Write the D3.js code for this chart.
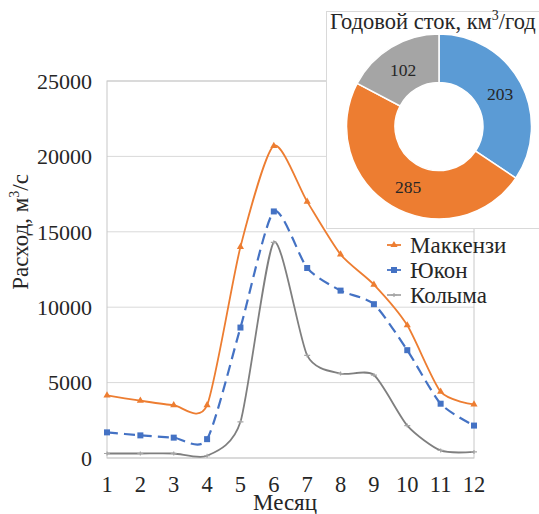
<!DOCTYPE html>
<html><head><meta charset="utf-8">
<script src="https://cdn.jsdelivr.net/npm/d3@7"></script>
<style>body{margin:0;background:#fff}svg text{font-family:'Liberation Serif','Times New Roman',serif;fill:#262626}</style>
</head><body>
<svg id="c" width="539" height="514"></svg>
<script>
const months = [1,2,3,4,5,6,7,8,9,10,11,12];
const mackenzie = [4150,3800,3500,3500,14000,20700,17000,13500,11500,8800,4400,3550];
const yukon = [1700,1500,1350,1250,8650,16350,12600,11100,10200,7150,3600,2150];
const kolyma = [300,300,300,150,2400,14300,6800,5600,5500,2150,500,400];
const seriesNames = ["Маккензи","Юкон","Колыма"];
const yTicks = [0,5000,10000,15000,20000,25000];
const annualNames = ["Юкон","Маккензи","Колыма"];
const annualValues = [203,285,102];
const annualColors = ["#5B9BD5","#ED7D31","#A5A5A5"];

const svg = d3.select("#c");
const x = d3.scaleLinear().domain([1,12]).range([107,474]);
const y = d3.scaleLinear().domain([0,25000]).range([458,81]);

svg.append("g").selectAll("line").data(yTicks).join("line")
  .attr("x1",x(1)).attr("x2",x(12)).attr("y1",d=>y(d)).attr("y2",d=>y(d))
  .attr("stroke","#d9d9d9").attr("stroke-width",1);
svg.append("rect").attr("x",x(1)).attr("y",y(25000)).attr("width",x(12)-x(1)).attr("height",y(0)-y(25000))
  .attr("fill","none").attr("stroke","#c8c8c8");

svg.append("g").selectAll("text").data(yTicks).join("text")
  .attr("x",92).attr("y",d=>y(d)).attr("dy","0.35em").attr("text-anchor","end")
  .attr("font-size",22).text(d=>d);
svg.append("g").selectAll("text").data(months).join("text")
  .attr("x",d=>x(d)).attr("y",492).attr("text-anchor","middle")
  .attr("font-size",22.5).text(d=>d);
svg.append("text").attr("x",285).attr("y",510).attr("text-anchor","middle").attr("font-size",23).text("Месяц");
const yl = svg.append("text").attr("transform","translate(28,232) rotate(-90)").attr("text-anchor","middle").attr("font-size",23);
yl.append("tspan").text("Расход, м");
yl.append("tspan").attr("font-size",14).attr("dy",-9).text("3");
yl.append("tspan").attr("dy",9).text("/с");

const curve = d3.curveCardinal.tension(0.3);
const line = d3.line().x((d,i)=>x(months[i])).y(d=>y(d)).curve(curve);

const series = [
  {name:seriesNames[0], vals:mackenzie, color:"#ED7D31", dash:null, marker:"tri"},
  {name:seriesNames[1], vals:yukon, color:"#4472C4", dash:"11,6", marker:"sq"},
  {name:seriesNames[2], vals:kolyma, color:"#7f7f7f", dash:null, marker:"plus"}
];
function marker(g, type, color, cx, cy){
  if(type==="tri") g.append("path").attr("d",d3.symbol(d3.symbolTriangle,22)()).attr("transform",`translate(${cx},${cy})`).attr("fill",color);
  else if(type==="sq") g.append("rect").attr("x",cx-3).attr("y",cy-3).attr("width",6).attr("height",6).attr("fill",color);
  else { g.append("path").attr("d",`M${cx-3},${cy}H${cx+3}M${cx},${cy-2}V${cy+2}`).attr("stroke","#a6a6a6").attr("stroke-width",1.2); }
}
series.slice().reverse().forEach(s=>{
  svg.append("path").attr("d",line(s.vals)).attr("fill","none").attr("stroke",s.color)
    .attr("stroke-width",s.marker==="sq"?2.2:1.8).attr("stroke-dasharray",s.dash);
  const g = svg.append("g");
  s.vals.forEach((v,i)=>marker(g,s.marker,s.color,x(months[i]),y(v)));
});

svg.append("rect").attr("x",326.5).attr("y",11.5).attr("width",220).attr("height",217)
  .attr("fill","#fff").attr("stroke","#d9d9d9");
const t = svg.append("text").attr("x",330).attr("y",29).attr("font-size",22.5);
t.append("tspan").text("Годовой сток, км");
t.append("tspan").attr("font-size",14).attr("dy",-9).text("3");
t.append("tspan").attr("dy",9).text("/год");

const pie = d3.pie().sort(null).value(d=>d)(annualValues);
const arc = d3.arc().innerRadius(44).outerRadius(92.5);
const pg = svg.append("g").attr("transform","translate(439,126.5)");
pg.selectAll("path").data(pie).join("path").attr("d",arc)
  .attr("fill",(d,i)=>annualColors[i]).attr("stroke","#fff").attr("stroke-width",1.5);
const labelPos = [[61,-33],[-31,60],[-36,-57]];
pg.selectAll("text").data(pie).join("text")
  .attr("x",(d,i)=>labelPos[i][0]).attr("y",(d,i)=>labelPos[i][1]).attr("dy","0.35em")
  .attr("text-anchor","middle").attr("font-size",17.5).text(d=>d.data);

const lg = svg.append("g");
series.forEach((s,i)=>{
  const ly = 245 + i*25;
  lg.append("line").attr("x1",387).attr("x2",401).attr("y1",ly).attr("y2",ly)
    .attr("stroke",s.marker==="plus"?"#a6a6a6":s.color).attr("stroke-width",1.8);
  marker(lg,s.marker,s.color,394,ly);
  lg.append("text").attr("x",410).attr("y",ly).attr("dy","0.35em").attr("font-size",23).text(s.name);
});
</script>
</body></html>
